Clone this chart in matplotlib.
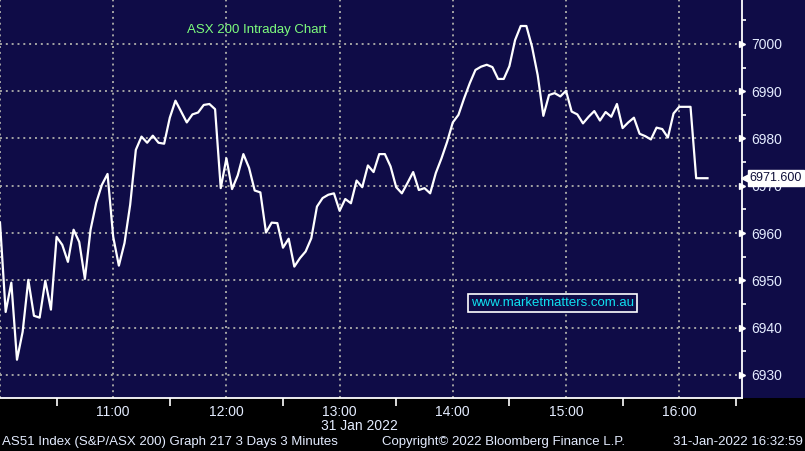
import numpy as np
import matplotlib
matplotlib.use("Agg")
import matplotlib.pyplot as plt
from matplotlib.patches import Rectangle
from matplotlib.ticker import MultipleLocator, FixedLocator

plt.rcParams["font.family"] = ["Liberation Sans", "DejaVu Sans"]

# ASX 200 intraday, 3-minute bars starting 10:00 on 31 Jan 2022
prices = [
    6962.2, 6943.3, 6949.5, 6933.2, 6939.1, 6950.1, 6942.5, 6942.1, 6949.9, 6943.8,
    6959.2, 6957.5, 6953.9, 6960.7, 6958.1, 6950.3, 6960.7, 6966.4, 6970.2, 6972.5,
    6959.2, 6953.1, 6957.9, 6966.0, 6977.6, 6980.4, 6979.1, 6980.6, 6979.1, 6978.9,
    6984.4, 6988.0, 6985.7, 6983.4, 6985.1, 6985.5, 6987.1, 6987.3, 6986.2, 6969.5,
    6975.8, 6969.3, 6972.2, 6976.7, 6973.8, 6969.0, 6968.6, 6960.1, 6962.2, 6962.1,
    6956.9, 6958.8, 6952.9, 6954.7, 6956.1, 6958.9, 6965.6, 6967.4, 6968.1, 6968.4,
    6964.7, 6967.2, 6966.3, 6971.1, 6969.7, 6974.3, 6972.9, 6976.7, 6976.7, 6974.1,
    6969.7, 6968.4, 6970.6, 6972.9, 6969.1, 6969.5, 6968.4, 6972.7, 6975.8, 6979.3,
    6983.4, 6985.0, 6988.5, 6991.7, 6994.5, 6995.2, 6995.6, 6995.1, 6992.6, 6992.6,
    6995.3, 7000.8, 7003.8, 7003.8, 6999.4, 6993.4, 6984.8, 6989.2, 6989.6, 6988.9,
    6990.1, 6985.7, 6985.1, 6983.2, 6984.6, 6985.8, 6983.8, 6985.6, 6984.6, 6987.3,
    6982.2, 6983.4, 6984.4, 6981.0, 6980.5, 6979.8, 6982.3, 6982.0, 6980.2, 6985.3,
    6986.7, 6986.7, 6986.7, 6971.6, 6971.6, 6971.6,
]
bar_minutes = 3
start_hour = 10
last_price = 6971.6

hour_ticks = [11, 12, 13, 14, 15, 16]
hour_labels = ["11:00", "12:00", "13:00", "14:00", "15:00", "16:00"]
price_ticks = [6930, 6940, 6950, 6960, 6970, 6980, 6990, 7000]

navy = "#0f0c47"
grid_col = "#a4a4a4"
label_col = "#e4ecff"

hours = start_hour + np.arange(len(prices)) * bar_minutes / 60.0

fig = plt.figure(figsize=(8.05, 4.51), dpi=100, facecolor="black")
fig.patches.append(Rectangle((0, 0.1175), 1, 0.8825, transform=fig.transFigure,
                             facecolor=navy, edgecolor="none", zorder=-10))
ax = fig.add_axes([0, 0.1175, 742 / 805, 0.8825])
ax.set_facecolor(navy)

ax.plot(hours, prices, color="white", lw=1.6, zorder=3)

ax.set_xlim(10, 10 + 742 / 113.2)
ax.set_ylim(6925.1, 7009.3)

# dotted grid
for h in [10] + hour_ticks:
    ax.axvline(h, color=grid_col, lw=1.4, ls=(0, (1, 2)), zorder=1)
for p in price_ticks:
    ax.axhline(p, color=grid_col, lw=1.4, ls=(0, (1, 2)), zorder=1)

for s in ["left", "top"]:
    ax.spines[s].set_visible(False)
for s in ["right", "bottom"]:
    ax.spines[s].set_color("white")
    ax.spines[s].set_linewidth(1.3)

# x axis
ax.xaxis.set_major_locator(FixedLocator(hour_ticks))
ax.set_xticklabels(hour_labels)
ax.xaxis.set_minor_locator(FixedLocator([h + 0.5 for h in [10] + hour_ticks]))
ax.tick_params(axis="x", which="major", length=0, pad=5, labelsize=10, labelcolor=label_col)
ax.tick_params(axis="x", which="minor", length=6, width=1.2, color="white", direction="out")

# y axis on the right
ax.yaxis.tick_right()
ax.yaxis.set_major_locator(FixedLocator(price_ticks))
ax.yaxis.set_minor_locator(MultipleLocator(5))
ax.tick_params(axis="y", which="major", length=0, pad=6.5, labelsize=10, labelcolor=label_col)
ax.tick_params(axis="y", which="minor", length=3, width=1.2, color="white", direction="out")
ax.plot([1.0] * len(price_ticks), price_ticks, ls="none", marker=">", ms=5, color="white",
        transform=ax.get_yaxis_transform(), clip_on=False, zorder=5)

# last price tag
ax.plot([1.005], [last_price], ls="none", marker="<", ms=7.5, color="white",
        transform=ax.get_yaxis_transform(), clip_on=False, zorder=6)
ax.text(1.0105, last_price, f"{last_price:.3f}", transform=ax.get_yaxis_transform(),
        ha="left", va="center", fontsize=9, color="#10103a", clip_on=False, zorder=7,
        bbox=dict(boxstyle="square,pad=0.15", fc="white", ec="white"))

ax.text(187 / 742, 1 - 30 / 398, "ASX 200 Intraday Chart", transform=ax.transAxes,
        ha="left", va="center", fontsize=9.5, color="#7dfc7d")
ax.text(471 / 742, 1 - 303 / 398, "www.marketmatters.com.au", transform=ax.transAxes,
        ha="left", va="center", fontsize=9.5, color="#10e0f0",
        bbox=dict(boxstyle="square,pad=0.2", fc=navy, ec="white", lw=1.2))

fig.text(359 / 805, 1 - 426 / 451, "31 Jan 2022", ha="center", va="center",
         fontsize=10, color=label_col)
fig.text(2 / 805, 1 - 442 / 451, "AS51 Index (S&P/ASX 200) Graph 217 3 Days 3 Minutes",
         ha="left", va="center", fontsize=9.5, color=label_col)
fig.text(382 / 805, 1 - 442 / 451, "Copyright\u00a9 2022 Bloomberg Finance L.P.",
         ha="left", va="center", fontsize=9.5, color=label_col)
fig.text(803 / 805, 1 - 442 / 451, "31-Jan-2022 16:32:59",
         ha="right", va="center", fontsize=9.5, color=label_col)

fig.savefig("out.png", dpi=100, facecolor=fig.get_facecolor())
